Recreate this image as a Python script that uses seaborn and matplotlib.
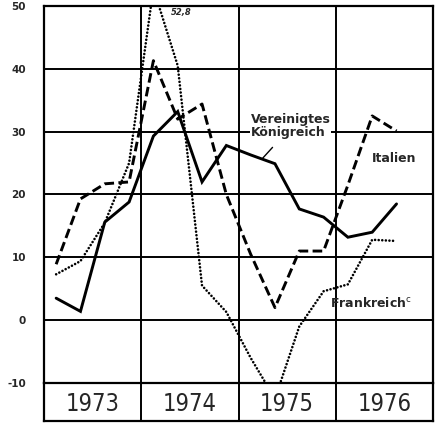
import matplotlib
matplotlib.use("Agg")
import matplotlib.pyplot as plt
import seaborn as sns
import pandas as pd
import numpy as np

sns.set_theme(style="white")
plt.rcParams['font.family'] = ['DejaVu Sans']

years = ["1973", "1974", "1975", "1976"]
quarters = list(range(15))  # Q1 1973 .. Q3 1976
uk = [3.5, 1.4, 15.6, 18.8, 29.3, 33.2, 22.0, 27.8, 26.3, 24.9, 17.7, 16.4, 13.2, 14.0, 18.5]
italien = [8.9, 19.3, 21.7, 22.0, 41.3, 32.0, 34.4, 20.0, 10.5, 2.0, 11.0, 11.0, 21.5, 32.5, 30.1]
frankreich = [7.3, 9.4, 15.5, 25.0, 52.8, 40.5, 5.5, 1.3, -6.0, -12.5, -1.0, 4.6, 5.7, 12.8, 12.6]
yticks = [-10, 0, 10, 20, 30, 40, 50]

df = pd.DataFrame({
    "x": [q + 0.5 for q in quarters] * 3,
    "y": uk + italien + frankreich,
    "land": ["UK"] * 15 + ["IT"] * 15 + ["FR"] * 15,
})

W, H = 437, 423
fig = plt.figure(figsize=(W / 100, H / 100), dpi=100)
ax = fig.add_axes([44 / W, 1 - 383 / H, (433 - 44) / W, (383 - 6) / H])
axb = fig.add_axes([44 / W, 1 - 421 / H, (433 - 44) / W, (421 - 383) / H])

styles = {"UK": dict(ls="-", lw=2.1, cap="butt"),
          "IT": dict(ls=(0, (3.3, 1.5)), lw=2.1, cap="butt"),
          "FR": dict(ls=(0, (0.01, 1.35)), lw=1.9, cap="round")}
for land, st in styles.items():
    sns.lineplot(data=df[df.land == land], x="x", y="y", ax=ax, color="black",
                 linestyle=st["ls"], linewidth=st["lw"], legend=False,
                 solid_joinstyle="miter", dash_capstyle=st["cap"])

ax.set_xlim(0, 16)
ax.set_ylim(-10, 50)
ax.set_yticks(yticks)
ax.set_yticklabels([str(t) for t in yticks], fontsize=7.5, fontweight="bold")
ax.tick_params(axis="y", length=0, pad=13)
ax.set_xticks([])
ax.set_xlabel("")
ax.set_ylabel("")
for yv in [0, 10, 20, 30, 40]:
    ax.axhline(yv, color="black", lw=1.4, zorder=0)
for xv in [4, 8, 12]:
    ax.axvline(xv, color="black", lw=1.4, zorder=0)
for s in ax.spines.values():
    s.set_color("black")
    s.set_linewidth(1.6)
ax.spines["bottom"].set_visible(False)

ax.text(8.5, 30.9, "Vereinigtes\nKönigreich", fontsize=9, fontweight="bold",
        ha="left", va="center", linespacing=1.05,
        bbox=dict(facecolor="white", edgecolor="none", pad=0.5))
ax.plot([9.0, 9.4], [25.8, 27.5], color="black", lw=1.0)
ax.text(13.5, 25.8, "Italien", fontsize=9, fontweight="bold", ha="left", va="center")
ax.text(11.75, 2.7, "Frankreich$^{\\mathrm{c}}$", fontsize=9, fontweight="bold",
        ha="left", va="center")
ax.text(5.2, 48.9, "52,8", fontsize=6, fontweight="bold", style="italic",
        ha="left", va="center")

axb.set_xlim(0, 16)
axb.set_ylim(0, 1)
axb.set_xticks([])
axb.set_yticks([])
for i, yr in enumerate(years):
    axb.text(4 * i + 2, 0.45, yr, fontsize=17, ha="center", va="center",
             fontstretch="condensed")
for xv in [4, 8, 12]:
    axb.axvline(xv, color="black", lw=1.4)
for s in axb.spines.values():
    s.set_color("black")
    s.set_linewidth(1.6)
axb.set_facecolor("white")

fig.savefig("out.png", dpi=100, facecolor="white")
